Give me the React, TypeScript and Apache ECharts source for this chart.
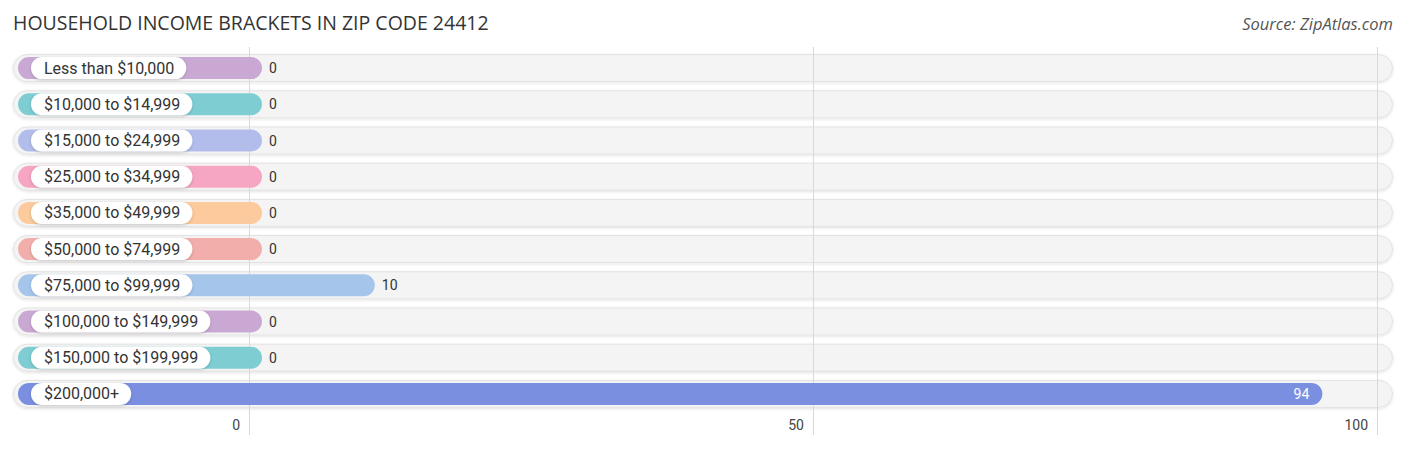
import React, { useEffect, useRef } from 'react';
import * as echarts from 'echarts';

const CATEGORIES = [
  'Less than $10,000',
  '$10,000 to $14,999',
  '$15,000 to $24,999',
  '$25,000 to $34,999',
  '$35,000 to $49,999',
  '$50,000 to $74,999',
  '$75,000 to $99,999',
  '$100,000 to $149,999',
  '$150,000 to $199,999',
  '$200,000+'
];
const VALUES = [0, 0, 0, 0, 0, 0, 10, 0, 0, 94];
const BAR_COLORS = [
  '#c9a9d3', '#7dcdd2', '#b3bdeb', '#f6a5c2', '#fcca9c',
  '#f1aeab', '#a5c5ea', '#c9a9d3', '#7dcdd2', '#7b8fe0'
];
const AXIS_MAX = 100;
const AXIS_INTERVAL = 50;

// layout (px)
const W = 1406;
const H = 449;
const ZERO_X = 249;
const FULL_X = 1377;
const PILL_LEFT = 13;
const BAR_LEFT = 18;
const RIGHT = 13;
const BAR_TAIL = 13; // rounded end past the value
const UNIT = (FULL_X - ZERO_X) / AXIS_MAX;
const BAR_AXIS_MAX = (W - RIGHT - BAR_LEFT) / UNIT;
const BAR_OFFSET = (ZERO_X - BAR_LEFT + BAR_TAIL) / UNIT;

const FONT = 'Roboto, "Noto Sans", sans-serif';

const App: React.FC = () => {
  const chartRef = useRef<HTMLDivElement>(null);

  useEffect(() => {
    if (!chartRef.current) return;
    const chart = echarts.init(chartRef.current, undefined, { renderer: 'svg' });

    const rowsTop = 50;
    const rowsBottom = 37;

    const option = {
      animation: false,
      title: [
        {
          text: 'HOUSEHOLD INCOME BRACKETS IN ZIP CODE 24412',
          left: 13,
          top: 12,
          padding: 0,
          textStyle: { fontSize: 19.5, fontWeight: 'normal', color: '#333', fontFamily: '"Open Sans", sans-serif' }
        },
        {
          text: 'Source: ZipAtlas.com',
          right: 13,
          top: 15,
          padding: 0,
          textStyle: { fontSize: 16.5, fontWeight: 'normal', fontStyle: 'italic', color: '#555', fontFamily: '"Open Sans", sans-serif' }
        }
      ],
      grid: [
        { left: PILL_LEFT, right: RIGHT, top: rowsTop, bottom: rowsBottom },
        { left: BAR_LEFT, right: RIGHT, top: rowsTop, bottom: rowsBottom },
        { left: ZERO_X, right: W - FULL_X, top: 47, bottom: 14 }
      ],
      xAxis: [
        { gridIndex: 0, type: 'value', min: 0, max: 1, show: false },
        { gridIndex: 1, type: 'value', min: 0, max: BAR_AXIS_MAX, show: false },
        {
          gridIndex: 2,
          type: 'value',
          min: 0,
          max: AXIS_MAX,
          interval: AXIS_INTERVAL,
          z: 1,
          axisLine: { show: false },
          axisTick: { show: false },
          splitLine: { show: true, lineStyle: { color: '#d9d9d9', width: 1 } },
          axisLabel: {
            inside: true,
            margin: 3,
            align: 'right',
            padding: [0, 9, 0, 0],
            color: '#444',
            fontSize: 14,
            fontFamily: FONT
          }
        }
      ],
      yAxis: [
        { gridIndex: 0, type: 'category', data: CATEGORIES, inverse: true, show: false },
        { gridIndex: 1, type: 'category', data: CATEGORIES, inverse: true, show: false },
        { gridIndex: 2, type: 'value', min: 0, max: 1, show: false }
      ],
      series: [
        {
          name: 'track',
          type: 'bar',
          xAxisIndex: 0,
          yAxisIndex: 0,
          z: 0,
          silent: true,
          barWidth: 28,
          data: CATEGORIES.map(() => 1),
          itemStyle: {
            color: '#f4f4f4',
            borderColor: '#e3e3e3',
            borderWidth: 1,
            borderRadius: 14,
            shadowBlur: 3,
            shadowColor: 'rgba(0,0,0,0.12)',
            shadowOffsetY: 1
          }
        },
        {
          name: 'households',
          type: 'bar',
          xAxisIndex: 1,
          yAxisIndex: 1,
          z: 2,
          barWidth: 22,
          data: VALUES.map((v, i) => ({
            value: v + BAR_OFFSET,
            itemStyle: { color: BAR_COLORS[i] }
          })),
          itemStyle: { borderRadius: 11 },
          label: {
            show: true,
            position: [PILL_LEFT, '50%'],
            align: 'left',
            verticalAlign: 'middle',
            formatter: (p: any) => CATEGORIES[p.dataIndex],
            color: '#333',
            fontSize: 16,
            fontFamily: FONT,
            lineHeight: 16,
            backgroundColor: '#fff',
            borderRadius: 11,
            padding: [3, 12, 3, 13],
            shadowBlur: 3,
            shadowColor: 'rgba(0,0,0,0.2)',
            shadowOffsetY: 1
          }
        },
        {
          name: 'values',
          type: 'bar',
          xAxisIndex: 1,
          yAxisIndex: 1,
          z: 3,
          barWidth: 22,
          barGap: '-100%',
          silent: true,
          data: VALUES.map((v) => ({
            value: v + BAR_OFFSET,
            label:
              v > AXIS_MAX / 2
                ? { position: 'insideRight', distance: 13, color: '#fff' }
                : { position: 'right', distance: 7, color: '#333' }
          })),
          itemStyle: { color: 'transparent' },
          label: {
            show: true,
            fontSize: 14,
            fontFamily: FONT,
            formatter: (p: any) => String(VALUES[p.dataIndex])
          }
        }
      ]
    };

    chart.setOption(option as any);
    return () => {
      chart.dispose();
    };
  }, []);

  return (
    <div
      ref={chartRef}
      style={{ position: 'fixed', left: 0, top: 0, width: W, height: H, background: '#fff' }}
    />
  );
};

export default App;
